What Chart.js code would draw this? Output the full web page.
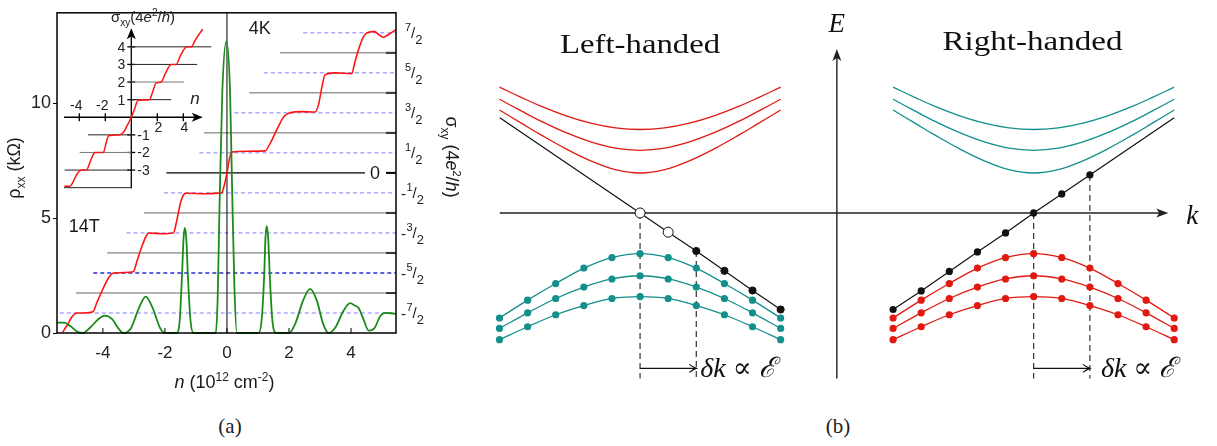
<!DOCTYPE html>
<html>
<head>
<meta charset="utf-8">
<script src="https://cdn.jsdelivr.net/npm/chart.js@4.4.1/dist/chart.umd.min.js"></script>
<style>
  html, body { margin: 0; padding: 0; background: #fff; }
  #wrap { position: relative; width: 1217px; height: 446px; overflow: hidden; }
  canvas { position: absolute; }
  .cap { position: absolute; font-family: 'Liberation Serif', serif; font-size: 21px; line-height: 21px; color: #222; transform: translateX(-50%); }
</style>
</head>
<body>
<div id="wrap">
  <canvas id="chartA" width="470" height="400" style="left:0px;top:0px"></canvas>
  <canvas id="inset" width="170" height="200" style="left:55px;top:0px"></canvas>
  <canvas id="chartB" width="737" height="400" style="left:480px;top:0px"></canvas>
  <div class="cap" style="left:230px;top:416px">(a)</div>
  <div class="cap" style="left:838px;top:416px">(b)</div>
</div>
<script>
// ---------- panel (a): main plot ----------
const nTicks = [-4, -2, 0, 2, 4];
const rhoTicks = [0, 5, 10];
const sigmaTicks = [-3, -2, -1, 0, 1, 2, 3];
const sigmaLabels = ['7/2', '5/2', '3/2', '1/2', '-1/2', '-3/2', '-5/2', '-7/2'];
const sigmaLabelAt = [3.5, 2.5, 1.5, 0.5, -0.5, -1.5, -2.5, -3.5];

// rho_xx (kOhm) vs n
const rhoN = [-5.48, -5.25, -5.05, -4.85, -4.65, -4.4, -4.15, -3.94, -3.7, -3.5, -3.35, -3.1, -2.85, -2.62, -2.4, -2.15, -2.0,
  -1.62, -1.52, -1.45, -1.4, -1.36, -1.31, -1.26, -1.18, -1.08, -0.36, -0.3, -0.24, -0.15, -0.02, 0.1, 0.17, 0.24, 0.32,
  1.02, 1.12, 1.2, 1.24, 1.28, 1.33, 1.38, 1.46, 1.58, 2.0, 2.2, 2.45, 2.68, 2.9, 3.1, 3.28, 3.5, 3.75, 3.97, 4.12, 4.25,
  4.4, 4.57, 4.75, 4.95, 5.1, 5.3, 5.45];
const rhoVal = [0.45, 0.45, 0.3, 0.08, 0.0, 0.25, 0.6, 0.76, 0.6, 0.2, 0.0, 0.2, 1.05, 1.58, 1.1, 0.2, 0.0,
  0.0, 0.6, 2.5, 4.1, 4.58, 4.1, 2.5, 0.6, 0.0, 0.0, 1.5, 5.5, 10.5, 12.7, 10.5, 6.0, 2.0, 0.0,
  0.0, 0.6, 2.5, 4.1, 4.65, 4.1, 2.5, 0.6, 0.0, 0.0, 0.4, 1.4, 1.92, 1.4, 0.4, 0.0, 0.25, 0.95, 1.3, 1.2, 1.08,
  0.6, 0.1, 0.2, 0.75, 0.88, 0.86, 0.83];

// sigma_xy (4e^2/h) vs n
const sigN = [-5.3, -5.15, -5.0, -4.85, -4.6, -4.32, -4.2, -4.0, -3.8, -3.65, -3.3, -3.02, -2.9, -2.75, -2.6, -2.52, -2.1,
  -1.73, -1.62, -1.5, -1.38, -1.3, -0.7, -0.17, -0.1, 0.0, 0.08, 0.15, 0.6, 1.23, 1.38, 1.62, 1.85, 2.03, 2.4, 2.84,
  2.95, 3.05, 3.16, 3.5, 4.02, 4.12, 4.25, 4.4, 4.52, 4.76, 4.9, 5.03, 5.2, 5.45];
const sigVal = [-3.98, -3.8, -3.6, -3.5, -3.5, -3.47, -3.25, -2.9, -2.6, -2.5, -2.49, -2.47, -2.2, -1.85, -1.57, -1.5, -1.52,
  -1.5, -1.2, -0.75, -0.53, -0.51, -0.52, -0.5, -0.35, 0.0, 0.35, 0.52, 0.54, 0.55, 0.72, 1.1, 1.42, 1.5, 1.53, 1.52,
  1.7, 2.1, 2.45, 2.5, 2.48, 2.75, 3.1, 3.4, 3.5, 3.53, 3.45, 3.39, 3.45, 3.58];

// reference levels
const intLevels = [3, 2, 1, 0, -1, -2, -3];
const intStarts = [1.71, 0.72, -0.74, -1.95, -2.68, -3.86, -4.87];
const intEnds = [5.45, 5.45, 5.45, 4.45, 5.45, 5.45, 5.45];
const halfLevels = [3.5, 2.5, 1.5, 0.5, -0.5, -1.5, -2.5, -3.5];
const halfStarts = [2.46, 1.19, 0.24, -0.89, -2.03, -3.24, -4.31, -5.39];

// ---------- panel (a): inset ----------
const insTicksN = [-4, -2, 2, 4];
const insTicksS = [-3, -2, -1, 1, 2, 3, 4];
const insAxisN = [-5.18, 5.5];
const insAxisS = [-4.03, 5.06];
const insN = [-5.15, -4.72, -4.5, -4.2, -3.82, -3.45, -3.2, -2.95, -2.79, -2.15, -1.95, -1.74, -0.9, -0.6, -0.3, 0,
  0.25, 0.5, 1.41, 1.6, 1.92, 2.3, 2.6, 3.07, 3.45, 3.75, 4.27, 4.62, 4.9, 5.2, 5.5];
const insS = [-3.92, -3.92, -3.7, -3.25, -3.0, -3.0, -2.6, -2.15, -2.0, -2.0, -1.5, -1.05, -1.0, -0.85, -0.45, 0,
  0.45, 0.95, 1.0, 1.35, 1.95, 2.0, 2.45, 3.0, 3.0, 3.45, 4.0, 4.0, 4.35, 4.7, 5.0];
const insLevels = [4, 3, 2, 1, -1, -2, -3, -4];
const insFrom = [0, 0, 0, 0, -3.33, -3.97, -5.13, -5.18];
const insTo = [6.15, 5.07, 4.05, 3.07, 0, 0, 0, 0];

// ---------- panel (b): band schematic ----------
const kDotsL = [-34.2, -31.35, -28.5, -25.65, -22.8, -19.95, -17.1, -14.25, -11.4, -8.55, -5.7];
const kDotsR = [5.7, 8.55, 11.4, 14.25, 17.1, 19.95, 22.8, 25.65, 28.5, 31.35, 34.2];
const valE1 = [-10.77, -8.94, -7.24, -5.65, -4.57, -4.17, -4.57, -5.65, -7.24, -8.94, -10.77];
const valE2 = [-11.84, -10.24, -8.77, -7.6, -6.77, -6.44, -6.77, -7.6, -8.77, -10.24, -11.84];
const valE3 = [-13.0, -11.67, -10.44, -9.5, -8.77, -8.57, -8.77, -9.5, -10.44, -11.67, -13.0];
const kHypL = [-34.2, -31.95, -29.95, -27.45, -24.95, -22.45, -19.95, -17.45, -14.95, -12.45, -9.95, -7.95, -5.7];
const kHypR = [5.7, 7.95, 9.95, 12.45, 14.95, 17.45, 19.95, 22.45, 24.95, 27.45, 29.95, 31.95, 34.2];
const condE1 = [12.91, 11.83, 10.93, 9.96, 9.21, 8.73, 8.56, 8.73, 9.21, 9.96, 10.93, 11.83, 12.91];
const condE2 = [11.66, 10.44, 9.39, 8.23, 7.29, 6.65, 6.43, 6.65, 7.29, 8.23, 9.39, 10.44, 11.66];
const condE3 = [10.56, 9.19, 7.98, 6.57, 5.35, 4.44, 4.1, 4.44, 5.35, 6.57, 7.98, 9.19, 10.56];
const chiralLK = [-34.17, -19.95, -17.1, -14.25, -11.4, -8.55, -5.7];
const chiralLE = [9.76, 0, -1.97, -3.9, -5.93, -7.95, -9.9];
const chiralRK = [5.7, 8.55, 11.4, 14.25, 17.1, 19.95, 22.8, 25.65, 34.2];
const chiralRE = [-9.9, -8.0, -6.0, -4.0, -2.05, 0, 1.95, 3.9, 9.76];
const shiftFrom = [-19.95, 19.95];
const shiftTo = [-14.25, 25.65];
const shiftTopE = [0, 0, -3.9, 3.9];   // tops of dashed guides: node L, node R, shifted L, shifted R
const shiftK = [-19.95, 19.95, -14.25, 25.65];
const guideBottomE = -16.97;
const arrowE = -15.94;
const kAxis = [-34.17, 33.6];
const eAxis = [-16.97, 16.83];

const RED = '#e01a10', TEAL = '#138f8c', SANS = "'Liberation Sans', Arial, sans-serif", SERIF = "'Liberation Serif', 'DejaVu Serif', serif";
Chart.defaults.font.family = SANS;
Chart.defaults.color = '#222';

const pts = (xs, ys) => xs.map((x, i) => ({ x, y: ys[i] }));
const hline = (x0, x1, y) => [{ x: x0, y }, { x: x1, y }];

function seg(ctx, x0, y0, x1, y1) { ctx.beginPath(); ctx.moveTo(x0, y0); ctx.lineTo(x1, y1); ctx.stroke(); }
function headFilled(ctx, x, y, dir, len, half) {
  ctx.beginPath();
  if (dir === 'right') { ctx.moveTo(x, y); ctx.lineTo(x - len, y - half); ctx.lineTo(x - len * 0.75, y); ctx.lineTo(x - len, y + half); }
  else { ctx.moveTo(x, y); ctx.lineTo(x - half, y + len); ctx.lineTo(x, y + len * 0.75); ctx.lineTo(x + half, y + len); }
  ctx.closePath(); ctx.fill();
}
// draw a run of [text, font, dy] pieces, returns total width
function runs(ctx, parts, x, y, measureOnly) {
  let cx = x;
  parts.forEach(([t, f, dy]) => { ctx.font = f; if (!measureOnly) ctx.fillText(t, cx, y + (dy || 0)); cx += ctx.measureText(t).width; });
  return cx - x;
}

// ---------- chart (a) ----------
const dsA = [
  { data: pts(rhoN, rhoVal), borderColor: '#1b8a1b', borderWidth: 1.8, cubicInterpolationMode: 'monotone', yAxisID: 'y', clip: 4 },
  { data: pts(sigN, sigVal), borderColor: '#ff1414', borderWidth: 1.6, cubicInterpolationMode: 'monotone', yAxisID: 'y2' },
  { data: [{ x: 0, y: -4 }, { x: 0, y: 4 }], borderColor: '#000', borderWidth: 1, yAxisID: 'y2' },
];
intLevels.forEach((lv, i) => dsA.push({ data: hline(intStarts[i], intEnds[i], lv), borderColor: lv === 0 ? '#000' : '#666', borderWidth: lv === 0 ? 1.4 : 1, yAxisID: 'y2' }));
halfLevels.forEach((lv, i) => dsA.push({ data: hline(halfStarts[i], 5.45, lv), borderColor: lv === -2.5 ? '#2a2ad6' : '#7d7dff', borderWidth: lv === -2.5 ? 1.5 : 1, borderDash: [4, 3], yAxisID: 'y2' }));

const panelA = {
  id: 'panelA',
  beforeDatasetsDraw(chart) {
    const { ctx, chartArea: a, scales: { x, y2 } } = chart;
    ctx.save();
    ctx.strokeStyle = '#000';
    ctx.lineWidth = 1;
    nTicks.forEach(v => { const px = x.getPixelForValue(v); seg(ctx, px, a.bottom, px, a.bottom - 5); });
    ctx.lineWidth = 2;
    sigmaTicks.forEach(v => { const py = y2.getPixelForValue(v); seg(ctx, a.right - 10, py, a.right, py); });
    ctx.restore();
  },
  afterDatasetsDraw(chart) {
    const { ctx, chartArea: a, scales: { x, y2 } } = chart;
    ctx.save();
    ctx.strokeStyle = '#000'; ctx.lineWidth = 1.5;
    ctx.strokeRect(a.left, a.top, a.right - a.left, a.bottom - a.top);
    ctx.fillStyle = '#1a1a1a';
    ctx.textAlign = 'left'; ctx.textBaseline = 'alphabetic';
    // fraction labels on the right axis
    sigmaLabels.forEach((lab, i) => {
      const py = y2.getPixelForValue(sigmaLabelAt[i]);
      const neg = lab[0] === '-';
      const [num, den] = lab.replace('-', '').split('/');
      let cx = a.right + 9;
      if (neg) { ctx.font = '15px ' + SANS; ctx.fillText('-', a.right + 5, py + 6); cx = a.right + 10.5; }
      runs(ctx, [[num, '11px ' + SANS, -2], ['/', '15px ' + SANS, 5], [den, '13px ' + SANS, 11]], cx, py);
    });
    ctx.font = '18px ' + SANS; ctx.textAlign = 'center'; ctx.textBaseline = 'middle';
    ctx.fillText('0', a.right - 21, y2.getPixelForValue(0) + 1);
    ctx.fillText('4K', x.getPixelForValue(1.06), 29);
    ctx.fillText('14T', x.getPixelForValue(-4.6), 227);
    ctx.textAlign = 'left'; ctx.textBaseline = 'alphabetic';
    // x title
    const xt = [['n', 'italic 18px ' + SANS, 0], [' (10', '18px ' + SANS, 0], ['12', '12px ' + SANS, -7], [' cm', '18px ' + SANS, 0], ['-2', '12px ' + SANS, -7], [')', '18px ' + SANS, 0]];
    const wx = runs(ctx, xt, 0, 0, true);
    runs(ctx, xt, (a.left + a.right) / 2 - wx / 2 - 2, 388);
    // left y title
    const yt = [['\u03c1', '18px ' + SANS, 0], ['xx', '12px ' + SANS, 5], [' (k\u03a9)', '18px ' + SANS, 0]];
    const wy = runs(ctx, yt, 0, 0, true);
    ctx.save(); ctx.translate(20, 168); ctx.rotate(-Math.PI / 2); runs(ctx, yt, -wy / 2, 0); ctx.restore();
    // right y title
    const rt = [['\u03c3', '18px ' + SANS, 0], ['xy', '12px ' + SANS, 5], [' (4', '18px ' + SANS, 0], ['e', 'italic 18px ' + SANS, 0], ['2', '11px ' + SANS, -7], ['/', '18px ' + SANS, 0], ['h', 'italic 18px ' + SANS, 0], [')', '18px ' + SANS, 0]];
    const wr = runs(ctx, rt, 0, 0, true);
    ctx.save(); ctx.translate(446, 157); ctx.rotate(Math.PI / 2); runs(ctx, rt, -wr / 2, 0); ctx.restore();
    ctx.restore();
  }
};

new Chart(document.getElementById('chartA'), {
  type: 'line',
  data: { datasets: dsA },
  options: {
    responsive: false, animation: false,
    layout: { padding: { top: 4, left: 0, right: 0, bottom: 0 } },
    elements: { point: { radius: 0 }, line: { tension: 0 } },
    plugins: { legend: { display: false }, tooltip: { enabled: false } },
    scales: {
      x: {
        type: 'linear', min: -5.48, max: 5.45,
        afterBuildTicks: s => { s.ticks = nTicks.map(v => ({ value: v })); },
        afterFit: s => { s.height = 67; },
        grid: { display: false, drawTicks: false }, border: { display: false },
        ticks: { font: { size: 17 }, color: '#222', padding: 10 }
      },
      y: {
        min: 0, max: 13.94,
        afterBuildTicks: s => { s.ticks = rhoTicks.map(v => ({ value: v })); },
        afterFit: s => { s.width = 57; },
        grid: { drawOnChartArea: false, tickLength: 4, color: '#000' }, border: { display: false },
        ticks: { font: { size: 18 }, color: '#222', padding: 2 }
      },
      y2: {
        position: 'right', min: -4, max: 4,
        afterFit: s => { s.width = 74; },
        grid: { display: false }, border: { display: false },
        ticks: { display: false }
      }
    }
  },
  plugins: [panelA]
});

// ---------- inset ----------
const dsI = [{ data: pts(insN, insS), borderColor: '#ff1414', borderWidth: 1.5, cubicInterpolationMode: 'monotone', clip: false }];
insLevels.forEach((lv, i) => dsI.push({ data: hline(insFrom[i], insTo[i], lv), borderColor: (lv === 2 || lv === -2) ? '#777' : '#222', borderWidth: 1, clip: false }));

const insetPlugin = {
  id: 'insetPlugin',
  beforeDatasetsDraw(chart) {
    const { ctx, scales: { x, y } } = chart;
    const X = v => x.getPixelForValue(v), Y = v => y.getPixelForValue(v);
    ctx.save();
    ctx.strokeStyle = '#000'; ctx.fillStyle = '#000'; ctx.lineWidth = 1.3;
    seg(ctx, X(insAxisN[0]), Y(0), X(insAxisN[1]) - 8, Y(0));
    headFilled(ctx, X(insAxisN[1]), Y(0), 'right', 11, 4.5);
    seg(ctx, X(0), Y(insAxisS[0]), X(0), Y(insAxisS[1]) + 8);
    headFilled(ctx, X(0), Y(insAxisS[1]), 'up', 11, 4.5);
    insTicksN.forEach(v => seg(ctx, X(v), Y(0) - 4, X(v), Y(0) + 4));
    insTicksS.forEach(v => seg(ctx, X(0) - 4, Y(v), X(0) + 4, Y(v)));
    ctx.fillStyle = '#222';
    ctx.font = '14px ' + SANS;
    ctx.textBaseline = 'middle';
    insTicksS.forEach(v => {
      if (v > 0) { ctx.textAlign = 'right'; ctx.fillText(String(v), X(0) - 6, Y(v) + 1); }
      else { ctx.textAlign = 'left'; ctx.fillText(String(v), X(0) + 6, Y(v) + 1); }
    });
    ctx.textAlign = 'center';
    insTicksN.forEach(v => {
      if (v < 0) { ctx.textBaseline = 'bottom'; ctx.fillText(String(v), X(v) - 3, Y(0) - 4); }
      else { ctx.textBaseline = 'top'; ctx.fillText(String(v), X(v) + 1, Y(0) + 4); }
    });
    ctx.font = 'italic 17px ' + SANS; ctx.textBaseline = 'alphabetic';
    ctx.fillText('n', X(4.9), Y(0.75));
    ctx.textAlign = 'left';
    const it = [['\u03c3', '15px ' + SANS, 0], ['xy', '10px ' + SANS, 4], ['(4', '15px ' + SANS, 0], ['e', 'italic 15px ' + SANS, 0], ['2', '10px ' + SANS, -6], ['/', '15px ' + SANS, 0], ['h', 'italic 15px ' + SANS, 0], [')', '15px ' + SANS, 0]];
    const wi = runs(ctx, it, 0, 0, true);
    runs(ctx, it, X(0.9) - wi / 2, 22);
    ctx.restore();
  }
};

new Chart(document.getElementById('inset'), {
  type: 'line',
  data: { datasets: dsI },
  options: {
    responsive: false, animation: false,
    layout: { padding: 0 },
    elements: { point: { radius: 0 }, line: { tension: 0 } },
    plugins: { legend: { display: false }, tooltip: { enabled: false } },
    scales: {
      x: { type: 'linear', display: false, min: -5.87, max: 7.21 },
      y: { display: false, min: -4.70, max: 6.66 }
    }
  },
  plugins: [insetPlugin]
});

// ---------- chart (b) ----------
const dot = { pointRadius: 3.6, pointBorderWidth: 0, borderWidth: 1.3, tension: 0.3 };
const hyp = { borderWidth: 1.3, tension: 0.4, pointRadius: 0 };
const dsB = [
  { data: pts(chiralLK, chiralLE), borderColor: '#111', borderWidth: 1.2,
    pointRadius: c => c.dataIndex === 0 ? 0 : (c.dataIndex <= 2 ? 5 : 3.6),
    pointBackgroundColor: c => c.dataIndex <= 2 ? '#fff' : '#111', pointBorderColor: '#111', pointBorderWidth: 1 },
  { data: pts(chiralRK, chiralRE), borderColor: '#111', borderWidth: 1.2,
    pointRadius: c => c.dataIndex === chiralRK.length - 1 ? 0 : 3.6,
    pointBackgroundColor: '#111', pointBorderWidth: 0 },
];
[valE1, valE2, valE3].forEach(e => {
  dsB.push({ data: pts(kDotsL, e), borderColor: TEAL, pointBackgroundColor: TEAL, ...dot });
  dsB.push({ data: pts(kDotsR, e), borderColor: RED, pointBackgroundColor: RED, ...dot });
});
shiftK.forEach((k, i) => dsB.push({ data: [{ x: k, y: shiftTopE[i] }, { x: k, y: guideBottomE }], borderColor: '#333', borderWidth: 1.2, borderDash: [6, 4], pointRadius: 0 }));
[condE1, condE2, condE3].forEach(e => {
  dsB.push({ data: pts(kHypL, e), borderColor: RED, ...hyp });
  dsB.push({ data: pts(kHypR, e), borderColor: TEAL, ...hyp });
});

function fitText(ctx, text, font, cx, base, width) {
  ctx.font = font;
  const w = ctx.measureText(text).width;
  ctx.save(); ctx.translate(cx, base); ctx.scale(width / w, 1);
  ctx.textAlign = 'center'; ctx.fillText(text, 0, 0); ctx.restore();
}

const panelB = {
  id: 'panelB',
  beforeDatasetsDraw(chart) {
    const { ctx, scales: { x, y } } = chart;
    const X = v => x.getPixelForValue(v), Y = v => y.getPixelForValue(v);
    ctx.save();
    ctx.strokeStyle = '#222'; ctx.fillStyle = '#222'; ctx.lineWidth = 1.4;
    seg(ctx, X(kAxis[0]), Y(0), X(kAxis[1]) - 8, Y(0));
    headFilled(ctx, X(kAxis[1]), Y(0), 'right', 12, 4.5);
    seg(ctx, X(0), Y(eAxis[0]), X(0), Y(eAxis[1]) + 8);
    headFilled(ctx, X(0), Y(eAxis[1]), 'up', 12, 4.5);
    ctx.restore();
  },
  afterDatasetsDraw(chart) {
    const { ctx, scales: { x, y } } = chart;
    const X = v => x.getPixelForValue(v), Y = v => y.getPixelForValue(v);
    ctx.save();
    ctx.strokeStyle = '#111'; ctx.fillStyle = '#111'; ctx.lineWidth = 1.2;
    shiftFrom.forEach((k0, i) => {
      const x0 = X(k0), x1 = X(shiftTo[i]), py = Y(arrowE);
      seg(ctx, x0, py, x1, py);
      ctx.beginPath(); ctx.moveTo(x1 - 7, py - 4); ctx.quadraticCurveTo(x1 - 3, py - 1, x1, py); ctx.quadraticCurveTo(x1 - 3, py + 1, x1 - 7, py + 4); ctx.stroke();
      const tx = x1 + (i === 0 ? 4 : 11), ty = py + 9;
      runs(ctx, [['\u03b4k', 'italic 28px ' + SERIF, 0], [' \u221d ', '28px ' + SERIF, 0], ['\u2130', 'italic 28px ' + SERIF, 0]], tx, ty);
    });
    ctx.textBaseline = 'alphabetic';
    fitText(ctx, 'Left-handed', '27px ' + SERIF, X(-19.95), 53, 160);
    fitText(ctx, 'Right-handed', '27px ' + SERIF, X(19.83), 50, 180);
    ctx.font = 'italic 27px ' + SERIF; ctx.textAlign = 'center';
    ctx.fillText('E', X(0), 32);
    ctx.textAlign = 'left';
    ctx.fillText('k', X(33.6) + 18, Y(0) + 11);
    ctx.restore();
  }
};

new Chart(document.getElementById('chartB'), {
  type: 'line',
  data: { datasets: dsB },
  options: {
    responsive: false, animation: false,
    layout: { padding: 0 },
    plugins: { legend: { display: false }, tooltip: { enabled: false } },
    scales: {
      x: { type: 'linear', display: false, min: -35.67, max: 38.03 },
      y: { display: false, min: -18.67, max: 21.33 }
    }
  },
  plugins: [panelB]
});
</script>
</body>
</html>
